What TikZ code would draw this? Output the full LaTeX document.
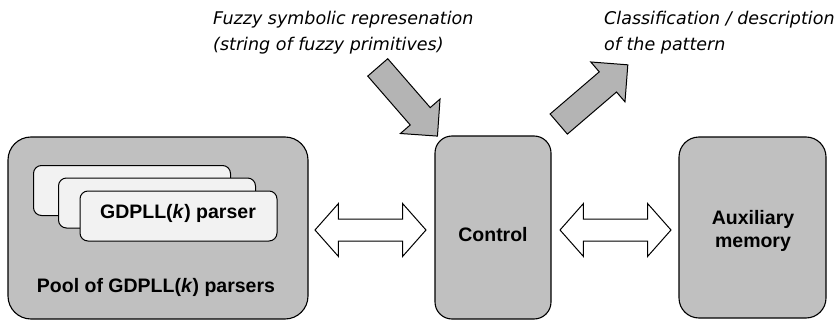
\documentclass[tikz,border=0pt]{standalone}
\usepackage{fontspec}
\setmainfont{Liberation Sans}
\newfontfamily\notefont{DejaVu Sans}
\usetikzlibrary{shapes.arrows}
\definecolor{boxgray}{HTML}{C0C0C0}
\definecolor{arrowgray}{HTML}{B4B4B4}
\definecolor{cardgray}{HTML}{F2F2F2}
\begin{document}
\begin{tikzpicture}[x=1pt,y=-1pt,
  panel/.style={draw=black,line width=1.1pt,fill=boxgray,inner sep=0pt},
  card/.style={draw=black,line width=1pt,fill=cardgray,rounded corners=8pt,
    minimum width=197pt,minimum height=50pt,inner sep=0pt},
  boldtext/.style={font=\fontsize{19.5}{23}\selectfont\bfseries,align=center,inner sep=0pt},
  note/.style={font=\notefont\itshape\fontsize{17.5}{26}\selectfont,align=left,inner sep=0pt,anchor=base west},
  bigarrow/.style={single arrow,draw=black,line width=1pt,fill=arrowgray,
    inner xsep=0pt,inner ysep=12.75pt,single arrow head extend=13pt,
    single arrow tip angle=90},
  linkarrow/.style={double arrow,draw=black,line width=1pt,fill=white,
    inner xsep=0pt,inner ysep=10.5pt,minimum height=111pt,double arrow head extend=15.5pt,
    double arrow tip angle=97}
]
\useasboundingbox (0,0) rectangle (836,321);

% main blocks
\node[panel,rounded corners=23pt,minimum width=300pt,minimum height=182pt] (pool) at (158,228) {};
\node[panel,rounded corners=17pt,minimum width=116pt,minimum height=183pt] (control) at (493,227.5) {};
\node[panel,rounded corners=20pt,minimum width=147pt,minimum height=181pt] (aux) at (752.5,227.5) {};

% stacked parser cards
\node[card] (card1) at (132,190.5) {};
\node[card] (card2) at (157,203) {};
\node[card] (card3) at (178.5,216) {};
\node[boldtext] (parser) at (178,213) {GDPLL(\textit{k}) parser};
\node[boldtext] (pooltext) at (156,287) {Pool of GDPLL(\textit{k}) parsers};

\node[boldtext] (controltext) at (493,235) {Control};
\node[boldtext] (auxtext) at (753,231) {Auxiliary\\memory};

% links between blocks
\node[linkarrow] (leftlink) at (370.5,230) {};
\node[linkarrow] (rightlink) at (615.5,230) {};

% input and output
\node[bigarrow,minimum height=91pt,rotate=-49] (input) at (403.25,96.75) {};
\node[bigarrow,minimum height=91pt,rotate=40.6] (output) at (588.25,98.75) {};

\node[note] (inlabel) at (213,51) {Fuzzy symbolic represenation\\(string of fuzzy primitives)};
\node[note] (outlabel) at (604,51) {Classification / description\\of the pattern};
\end{tikzpicture}
\end{document}
